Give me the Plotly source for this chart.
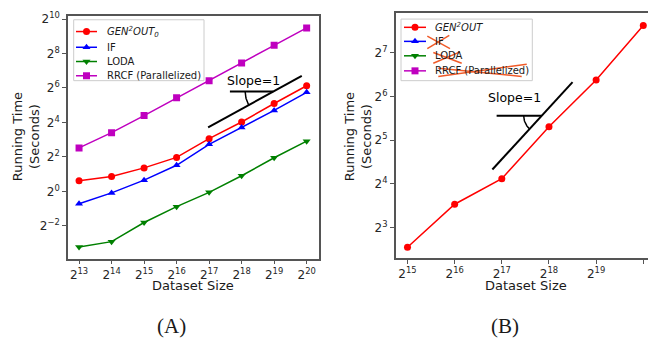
import math
import plotly.graph_objects as go

W, H = 648, 343

# ---- panel (A): running time vs dataset size, all detectors ----
sizes_a = [8192, 16384, 32768, 65536, 131072, 262144, 524288, 1048576]
gen2out0_sec = [1.53, 1.82, 2.57, 3.92, 8.34, 16.3, 34.3, 70.0]
if_sec = [0.607, 0.94, 1.57, 2.85, 6.63, 13.1, 26.0, 53.8]
loda_sec = [0.106, 0.132, 0.285, 0.54, 0.96, 1.87, 3.86, 7.52]
rrcf_sec = [5.74, 10.6, 21.1, 43.1, 85.6, 175.0, 357.0, 719.0]

# ---- panel (B): GEN2OUT alone on larger datasets ----
sizes_b = [32768, 65536, 131072, 262144, 524288, 1048576]
gen2out_sec = [5.86, 11.6, 17.4, 39.7, 83.3, 198.0]

# tick exponents (base 2)
xexp_a = [13, 14, 15, 16, 17, 18, 19, 20]
yexp_a = [-2, 0, 2, 4, 6, 8, 10]
xexp_b = [15, 16, 17, 18, 19, 20]
yexp_b = [3, 4, 5, 6, 7]

# axis ranges in log2 units
xr_a, yr_a = (12.66, 20.38), (-3.9, 10.19)
xr_b, yr_b = (14.75, 20.10), (2.30, 7.91)

# plot areas in pixels: left, right, top, bottom
box_a = (68.0, 319.0, 10.0, 257.0)
box_b = (395.7, 648.0, 7.3, 256.7)

# "Slope=1" guides in log2 units: slanted segment, level of the flat arm, start of flat arm
guide_a = dict(p0=(16.97, 3.72), p1=(19.85, 6.70), flat_y=5.79, flat_x0=17.64, r=28, label=(18.35, 6.42))
guide_b = dict(p0=(16.80, 4.33), p1=(18.50, 6.33), flat_y=5.56, flat_x0=16.89, r=18, label=(17.27, 5.98))

RED, BLUE, GREEN, MAG = "#ff0000", "#0000ff", "#008000", "#bf00bf"
FONT = "DejaVu Sans"
L10 = math.log10(2)

fig = go.Figure()


def pw(v):
    return 2.0 ** v


def add_series(x, y, color, symbol, xa, ya):
    fig.add_trace(go.Scatter(
        x=x, y=y, mode="lines+markers", xaxis=xa, yaxis=ya, showlegend=False,
        line=dict(color=color, width=1.5),
        marker=dict(color=color, symbol=symbol, size=7)))


add_series(sizes_a, gen2out0_sec, RED, "circle", "x", "y")
add_series(sizes_a, if_sec, BLUE, "triangle-up", "x", "y")
add_series(sizes_a, loda_sec, GREEN, "triangle-down", "x", "y")
add_series(sizes_a, rrcf_sec, MAG, "square", "x", "y")
add_series(sizes_b, gen2out_sec, RED, "circle", "x2", "y2")


def add_guide(g, box, xr, yr, xa, ya):
    sx = (box[1] - box[0]) / (xr[1] - xr[0])
    sy = (box[3] - box[2]) / (yr[1] - yr[0])
    (x0, y0), (x1, y1) = g["p0"], g["p1"]
    slope = (y1 - y0) / (x1 - x0)
    xi = x0 + (g["flat_y"] - y0) / slope
    yi = g["flat_y"]
    line = dict(color="black", width=2)
    fig.add_trace(go.Scatter(x=[pw(x0), pw(x1)], y=[pw(y0), pw(y1)], mode="lines",
                             line=line, xaxis=xa, yaxis=ya, showlegend=False))
    fig.add_trace(go.Scatter(x=[pw(g["flat_x0"]), pw(xi)], y=[pw(yi), pw(yi)], mode="lines",
                             line=line, xaxis=xa, yaxis=ya, showlegend=False))
    theta = math.atan2(slope * sy, sx)
    n = 24
    ax, ay = [], []
    for i in range(n + 1):
        phi = theta * i / n
        ax.append(pw(xi - g["r"] * math.cos(phi) / sx))
        ay.append(pw(yi - g["r"] * math.sin(phi) / sy))
    fig.add_trace(go.Scatter(x=ax, y=ay, mode="lines", line=dict(color="black", width=1.5),
                             xaxis=xa, yaxis=ya, showlegend=False))
    lx, ly = g["label"]
    fig.add_annotation(x=lx * L10, y=ly * L10, xref=xa, yref=ya, text="Slope=1",
                       showarrow=False, font=dict(family=FONT, size=12.5, color="black"))


add_guide(guide_a, box_a, xr_a, yr_a, "x", "y")
add_guide(guide_b, box_b, xr_b, yr_b, "x2", "y2")


def sup_ticks(exps):
    return [pw(e) for e in exps], ["2<sup>%s</sup>" % str(e).replace("-", "\u2212") for e in exps]


def axis_common():
    return dict(type="log", showgrid=False, zeroline=False, showline=True,
                linecolor="#555555", linewidth=1.5, ticks="outside", ticklen=4,
                tickwidth=1, tickcolor="#555555", ticklabeloverflow="hide past div",
                tickfont=dict(family=FONT, size=12, color="#262626"))


def dom_x(box):
    return [box[0] / W, min(box[1] / W, 1.0)]


def dom_y(box):
    return [1 - box[3] / H, 1 - box[2] / H]


tv, tt = sup_ticks(xexp_a)
fig.update_layout(xaxis=dict(axis_common(), domain=dom_x(box_a), anchor="y", mirror=True,
                             range=[xr_a[0] * L10, xr_a[1] * L10], tickvals=tv, ticktext=tt))
tv, tt = sup_ticks(yexp_a)
fig.update_layout(yaxis=dict(axis_common(), domain=dom_y(box_a), anchor="x", mirror=True,
                             range=[yr_a[0] * L10, yr_a[1] * L10], tickvals=tv, ticktext=tt))
tv, tt = sup_ticks(xexp_b)
fig.update_layout(xaxis2=dict(axis_common(), domain=dom_x(box_b), anchor="y2", mirror=True,
                              range=[xr_b[0] * L10, xr_b[1] * L10], tickvals=tv, ticktext=tt))
tv, tt = sup_ticks(yexp_b)
fig.update_layout(yaxis2=dict(axis_common(), domain=dom_y(box_b), anchor="x2", mirror=False,
                              range=[yr_b[0] * L10, yr_b[1] * L10], tickvals=tv, ticktext=tt))

# full-figure pixel frame for legends, axis titles and captions
fig.update_layout(
    xaxis3=dict(domain=[0, 1], range=[0, W], visible=False, anchor="y3"),
    yaxis3=dict(domain=[0, 1], range=[H, 0], visible=False, anchor="x3"),
)


def add_legend(box, rows, line_x, text_x):
    x0, x1, y0, y1 = box
    fig.add_shape(type="rect", xref="x3", yref="y3", x0=x0, x1=x1, y0=y0, y1=y1,
                  fillcolor="white", line=dict(color="#cccccc", width=1), layer="below")
    for label, color, symbol, y in rows:
        fig.add_shape(type="line", xref="x3", yref="y3", x0=line_x[0], x1=line_x[1], y0=y, y1=y,
                      line=dict(color=color, width=1.5), layer="below")
        fig.add_trace(go.Scatter(x=[(line_x[0] + line_x[1]) / 2], y=[y], mode="markers",
                                 xaxis="x3", yaxis="y3", showlegend=False,
                                 marker=dict(color=color, symbol=symbol, size=7)))
        fig.add_annotation(x=text_x, y=y, xref="x3", yref="y3", text=label, showarrow=False,
                           xanchor="left", yanchor="middle",
                           font=dict(family=FONT, size=10, color="#1a1a1a"))


add_legend((73.7, 204.0, 14.0, 76.0), [
    ("<i>GEN<sup>2</sup>OUT<sub>0</sub></i>", RED, "circle", 26.0),
    ("IF", BLUE, "triangle-up", 42.0),
    ("LODA", GREEN, "triangle-down", 56.5),
    ("RRCF (Parallelized)", MAG, "square", 71.0),
], (76.0, 97.0), 105.0)

add_legend((401.0, 532.3, 13.3, 76.0), [
    ("<i>GEN<sup>2</sup>OUT</i>", RED, "circle", 21.7),
    ("IF", BLUE, "triangle-up", 36.0),
    ("LODA", GREEN, "triangle-down", 50.7),
    ("RRCF (Parallelized)", MAG, "square", 66.0),
], (404.0, 426.0), 433.0)

# crossed-out entries in the right legend
crosses = [
    ((427.3, 30.7), (450.0, 43.3)), ((427.3, 43.3), (449.3, 30.0)),
    ((433.3, 47.3), (461.7, 58.3)), ((433.3, 58.3), (460.0, 46.7)),
    ((438.3, 63.3), (521.7, 71.7)), ((438.3, 71.7), (526.7, 59.3)),
]
for (ax0, ay0), (ax1, ay1) in crosses:
    fig.add_shape(type="line", xref="x3", yref="y3", x0=ax0, y0=ay0, x1=ax1, y1=ay1,
                  line=dict(color="#f05a28", width=1.5), layer="above")

# axis titles
for cx in (193.0, 526.0):
    fig.add_annotation(x=cx, y=284.0, xref="x3", yref="y3", text="Dataset Size", showarrow=False,
                       font=dict(family=FONT, size=13, color="#1a1a1a"))
for cx in (25.5, 357.5):
    fig.add_annotation(x=cx, y=133.0, xref="x3", yref="y3", text="Running Time<br>(Seconds)",
                       showarrow=False, textangle=-90,
                       font=dict(family=FONT, size=13, color="#1a1a1a"))

# panel captions
for cx, cap in ((171.0, "(A)"), (505.0, "(B)")):
    fig.add_annotation(x=cx, y=326.0, xref="x3", yref="y3", text=cap, showarrow=False,
                       font=dict(family="Liberation Serif", size=21, color="#1a1a1a"))

fig.update_layout(width=W, height=H, margin=dict(l=0, r=0, t=0, b=0),
                  paper_bgcolor="white", plot_bgcolor="rgba(0,0,0,0)", showlegend=False)

fig.write_html("out.html")
